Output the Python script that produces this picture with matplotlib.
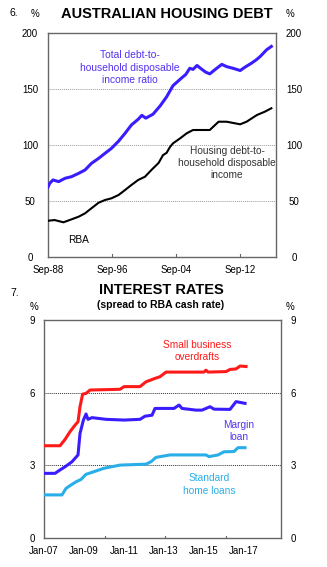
import matplotlib.pyplot as plt
import numpy as np

plt.rcParams['font.family'] = ['Liberation Sans', 'DejaVu Sans']

# household debt ratios, per cent of disposable income (decimal years)
debt_years = [1988.67, 1988.9, 1989.3, 1990.0, 1990.8, 1991.6, 1992.5, 1993.3,
              1994.1, 1995.0, 1995.8, 1996.6, 1997.5, 1998.3, 1999.1, 1999.95,
              2000.4, 2000.9, 2001.8, 2002.7, 2003.5, 2004.3, 2005.4, 2005.9,
              2006.4, 2006.8, 2007.3, 2007.9, 2008.4, 2008.9, 2009.5, 2010.4,
              2011.0, 2011.8, 2012.7, 2013.3, 2014.1, 2014.7, 2015.2, 2016.0,
              2016.6]
total_debt = [62.5, 66, 68.8, 67.3, 70.3, 71.7, 74.7, 77.7,
              83.6, 88.1, 92.6, 97, 103.5, 110.4, 117.9, 123,
              126.5, 124, 127.5, 135, 143, 153, 160, 163,
              168.5, 167.5, 171, 167.6, 165, 163.5, 167, 172,
              170, 168.5, 166.5, 169.5, 173, 176, 179, 185,
              188]

housing_years = [1988.7, 1989.5, 1990.6, 1991.6, 1992.5, 1993.3, 1994.1, 1995.0,
                 1995.8, 1996.6, 1997.5, 1998.3, 1999.1, 1999.95, 2000.8, 2001.6,
                 2002.5, 2003.05, 2003.5, 2003.9, 2004.3, 2005.2, 2006.0, 2006.8,
                 2007.7, 2008.9, 2010.0, 2011.0, 2012.7, 2013.5, 2014.8, 2015.8,
                 2016.6]
housing_debt = [32.4, 33, 31, 33.6, 36, 39, 43.5, 48.5,
                50.9, 52.4, 55.4, 59.8, 64.3, 68.8, 71.7, 77.7,
                84, 91, 93, 98, 101.5, 106, 110.4, 113.4,
                113.4, 113.4, 120.8, 120.8, 118.5, 120.8, 126.8, 129.8,
                132.8]

# lending rate spreads to the cash rate, percentage points
sb_years = [2007.0, 2007.8, 2008.05, 2008.3, 2008.55, 2008.7, 2008.8, 2008.93,
            2009.1, 2009.3, 2010.8, 2011.0, 2011.8, 2012.1, 2012.55, 2012.8,
            2013.1, 2015.0, 2015.1, 2015.2, 2016.1, 2016.3, 2016.6, 2016.8, 2017.1]
sb_spread = [3.81, 3.81, 4.07, 4.39, 4.66, 4.8, 5.42, 5.94,
             5.97, 6.11, 6.14, 6.25, 6.25, 6.45, 6.59, 6.66,
             6.85, 6.85, 6.93, 6.85, 6.87, 6.96, 6.98, 7.1, 7.08]

margin_years = [2007.0, 2007.55, 2007.8, 2008.05, 2008.4, 2008.7, 2008.8, 2008.97,
                2009.1, 2009.2, 2009.4, 2010.1, 2011.0, 2011.8, 2012.05, 2012.4,
                2012.55, 2013.5, 2013.75, 2013.9, 2014.6, 2014.9, 2015.3, 2015.5,
                2016.3, 2016.6, 2017.05]
margin_spread = [2.67, 2.67, 2.81, 2.94, 3.15, 3.43, 4.32, 4.87,
                 5.12, 4.9, 4.97, 4.9, 4.87, 4.9, 5.03, 5.07,
                 5.35, 5.35, 5.49, 5.35, 5.28, 5.28, 5.42, 5.32,
                 5.31, 5.63, 5.56]

home_years = [2007.0, 2007.9, 2008.1, 2008.35, 2008.6, 2008.85, 2009.1, 2009.5,
              2010.0, 2010.8, 2012.1, 2012.35, 2012.6, 2013.3, 2015.1, 2015.25,
              2015.7, 2016.0, 2016.5, 2016.7, 2017.05]
home_spread = [1.78, 1.78, 2.05, 2.19, 2.32, 2.42, 2.63, 2.74,
               2.88, 3.01, 3.05, 3.15, 3.33, 3.43, 3.43, 3.36,
               3.43, 3.56, 3.57, 3.73, 3.73]

debt_ticks = [1988.67, 1996.67, 2004.67, 2012.67]
debt_ticklabels = ['Sep-88', 'Sep-96', 'Sep-04', 'Sep-12']
rate_ticks = [2007, 2009, 2011, 2013, 2015, 2017]
rate_ticklabels = ['Jan-07', 'Jan-09', 'Jan-11', 'Jan-13', 'Jan-15', 'Jan-17']

BLUE = '#3a1dff'
RED = '#ff1a1a'
LIGHT = '#29aee8'
SPINE = '#666666'


def style_axes(ax, yticks, pad):
    for s in ax.spines.values():
        s.set_color(SPINE)
        s.set_linewidth(1.0)
    ax.set_yticks(yticks)
    ax.tick_params(axis='y', which='both', length=0, labelsize=7,
                   left=True, right=True, labelleft=True, labelright=True, pad=pad)
    ax.tick_params(axis='x', length=0, labelsize=7, pad=6)
    for label in ax.get_yticklabels():
        label.set_horizontalalignment('center')


fig = plt.figure(figsize=(3.27, 5.67), dpi=100)

# ---- housing debt
ax1 = fig.add_axes([0.1468, 0.5467, 0.697, 0.3951])
ax1.set_xlim(1988.67, 1988.67 + 228 / 8)
ax1.set_ylim(0, 200)
for g in [50, 100, 150]:
    ax1.axhline(g, color='#9a9a9a', lw=0.7, ls=(0, (1, 1)), zorder=1)
ax1.plot(debt_years, total_debt, color=BLUE, lw=2.2, zorder=3)
ax1.plot(housing_years, housing_debt, color='black', lw=1.5, zorder=3)
style_axes(ax1, [0, 50, 100, 150, 200], 13)
ax1.set_xticks(debt_ticks)
ax1.set_xticklabels(debt_ticklabels)
for t in debt_ticks[1:]:
    ax1.plot([t, t], [0, 2.5], color=SPINE, lw=0.8, zorder=2)

ax1.text(1998.9, 169, 'Total debt-to-\nhousehold disposable\nincome ratio',
         color='#5533ee', fontsize=7.4, ha='center', va='center', linespacing=1.3)
ax1.text(2011.05, 84, 'Housing debt-to-\nhousehold disposable\nincome',
         color='#333333', fontsize=7.3, ha='center', va='center', linespacing=1.3)
ax1.text(1992.5, 15, 'RBA', color='black', fontsize=7.3, ha='center', va='center')

fig.text(10 / 327, 1 - 13 / 567, '6.', fontsize=7.5, ha='left', va='center')
fig.text(35 / 327, 1 - 14 / 567, '%', fontsize=7, ha='center', va='center')
fig.text(290 / 327, 1 - 14 / 567, '%', fontsize=7, ha='center', va='center')
fig.text(167 / 327, 1 - 14 / 567, 'AUSTRALIAN HOUSING DEBT', fontsize=10.5,
         fontweight='bold', ha='center', va='center')

# ---- interest rate spreads
ax2 = fig.add_axes([0.1346, 0.0511, 0.7248, 0.3845])
ax2.set_xlim(2007, 2007 + 237 / 20)
ax2.set_ylim(0, 9)
for g in [3, 6]:
    ax2.axhline(g, color='#333333', lw=0.7, ls=(0, (1, 1)), zorder=1)
ax2.plot(sb_years, sb_spread, color=RED, lw=2.2, zorder=3)
ax2.plot(margin_years, margin_spread, color=BLUE, lw=2.2, zorder=3)
ax2.plot(home_years, home_spread, color=LIGHT, lw=2.2, zorder=3)
style_axes(ax2, [0, 3, 6, 9], 8.6)
ax2.set_xticks(rate_ticks)
ax2.set_xticklabels(rate_ticklabels)
for t in [2010.05, 2013.05, 2016.1]:
    ax2.plot([t, t], [0, 0.1], color=SPINE, lw=0.8, zorder=2)

ax2.text(2014.65, 7.72, 'Small business\noverdrafts', color=RED, fontsize=7.3,
         ha='center', va='center', linespacing=1.3)
ax2.text(2016.75, 4.42, 'Margin\nloan', color='#5533ee', fontsize=7.3,
         ha='center', va='center', linespacing=1.3)
ax2.text(2015.25, 2.21, 'Standard\nhome loans', color=LIGHT, fontsize=7.3,
         ha='center', va='center', linespacing=1.3)

fig.text(10 / 327, 1 - 293 / 567, '7.', fontsize=7.5, ha='left', va='center')
fig.text(34 / 327, 1 - 307 / 567, '%', fontsize=7, ha='center', va='center')
fig.text(290 / 327, 1 - 307 / 567, '%', fontsize=7, ha='center', va='center')
fig.text(161 / 327, 1 - 290 / 567, 'INTEREST RATES', fontsize=10.5,
         fontweight='bold', ha='center', va='center')
fig.text(161 / 327, 1 - 305 / 567, '(spread to RBA cash rate)', fontsize=7.5,
         fontweight='bold', ha='center', va='center')

fig.savefig('out.png', dpi=100)
